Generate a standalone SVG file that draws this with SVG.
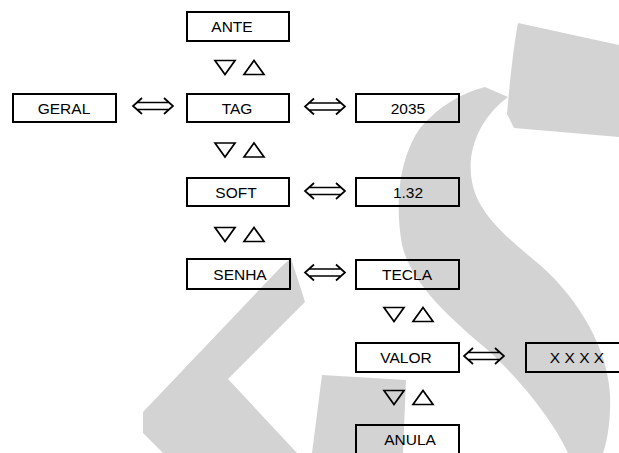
<svg xmlns="http://www.w3.org/2000/svg" width="619" height="453" viewBox="0 0 619 453">
<style>
.wm{fill:#d3d3d3;stroke:none}
.box{fill:none;stroke:#000;stroke-width:2}
.lbl{font-family:"Liberation Sans",Arial,sans-serif;font-size:15.5px;fill:#000;text-anchor:middle}
.tri{fill:none;stroke:#000;stroke-width:1.7;stroke-linejoin:miter}
.arr{fill:none;stroke:#000;stroke-width:1.7;stroke-linejoin:miter}
</style>
<defs>
<g id="updown">
<polygon class="tri" points="-25,-7 -5,-7 -15,7"/>
<polygon class="tri" points="4,7 24,7 14,-7"/>
</g>
<g id="dbl">
<path class="arr" d="M-11,-8 L-20,0 L-11,8 M11,-8 L20,0 L11,8 M-16,-3.5 H16 M-16,3.5 H16"/>
</g>
</defs>
<rect width="619" height="453" fill="#fff"/>
<g id="watermark">
<path class="wm" d="M518,23 L619,45 L619,137 L514,128 L507,114 C510,80 513,50 518,23 Z"/>
<path class="wm" d="M485,87 L508,97 C480,118 466,150 472,182 C478,215 510,240 540,265 C580,300 608,350 610,395 C611,425 606,445 603,453 L568,453 C553,420 520,380 490,352 C450,318 412,285 402,245 C395,205 398,160 420,128 C440,105 462,93 485,87 Z"/>
<polygon class="wm" points="291,258 305,302 228,379 297,453 163,453 143,433 143,412 280,268"/>
<polygon class="wm" points="322,375 406,380 403,453 312,453"/>
</g>
<g id="node-ANTE"><rect class="box" x="187" y="12" width="102" height="29"/><text class="lbl" x="232" y="32">ANTE</text></g>
<g id="node-GERAL"><rect class="box" x="13" y="94" width="103" height="28"/><text class="lbl" x="64" y="113.5">GERAL</text></g>
<g id="node-TAG"><rect class="box" x="187" y="94" width="102" height="28"/><text class="lbl" x="237" y="113.5">TAG</text></g>
<g id="node-2035"><rect class="box" x="356" y="94" width="103" height="28"/><text class="lbl" x="408" y="113.5">2035</text></g>
<g id="node-SOFT"><rect class="box" x="187" y="178" width="102" height="28"/><text class="lbl" x="236" y="197.5">SOFT</text></g>
<g id="node-132"><rect class="box" x="356" y="178" width="103" height="28"/><text class="lbl" x="408" y="197.5">1.32</text></g>
<g id="node-SENHA"><rect class="box" x="187" y="259" width="103" height="30"/><text class="lbl" x="240" y="279.5">SENHA</text></g>
<g id="node-TECLA"><rect class="box" x="356" y="260" width="103" height="29"/><text class="lbl" x="407" y="280">TECLA</text></g>
<g id="node-VALOR"><rect class="box" x="356" y="343" width="103" height="29"/><text class="lbl" x="406" y="363">VALOR</text></g>
<g id="node-XXXX"><rect class="box" x="526" y="343" width="103" height="29"/><text class="lbl" x="577" y="363">X X X X</text></g>
<g id="node-ANULA"><rect class="box" x="356" y="425" width="103" height="29"/><text class="lbl" x="410" y="445">ANULA</text></g>
<g id="connectors">
<use href="#updown" x="240" y="67.5"/>
<use href="#updown" x="240" y="150"/>
<use href="#updown" x="240" y="234.5"/>
<use href="#updown" x="409" y="314.5"/>
<use href="#updown" x="409" y="397.5"/>
<use href="#dbl" x="153" y="106"/>
<use href="#dbl" x="325" y="106.5"/>
<use href="#dbl" x="325" y="191"/>
<use href="#dbl" x="325" y="272.5"/>
<use href="#dbl" x="484" y="356"/>
</g>
</svg>
